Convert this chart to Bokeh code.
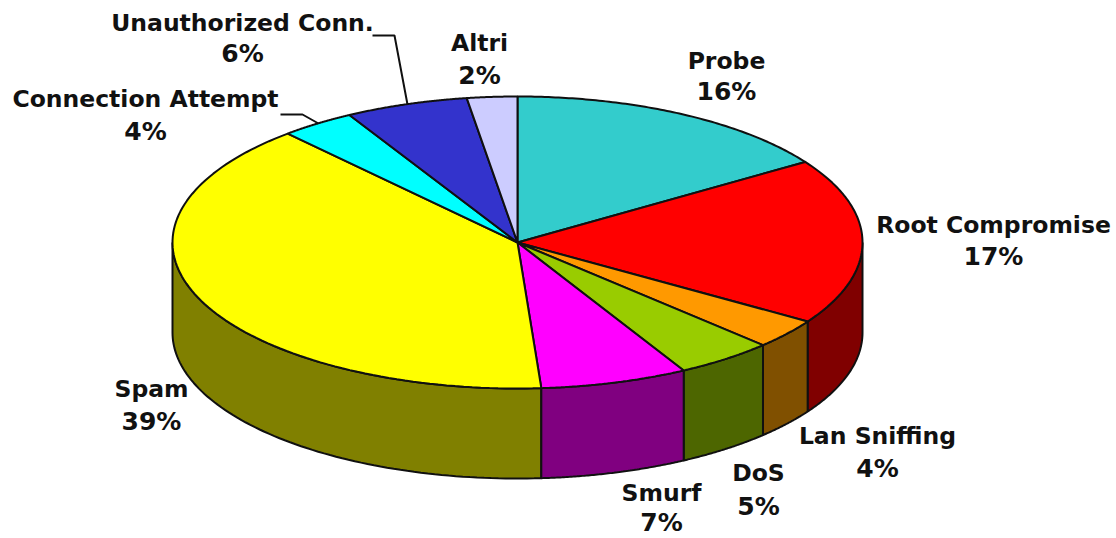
import numpy as np
from bokeh.plotting import figure
from bokeh.embed import file_html
from bokeh.resources import INLINE
from bokeh.core.properties import value as V

# data (slice order clockwise from 12 o'clock)
names = ["Probe", "Root Compromise", "Lan Sniffing", "DoS", "Smurf", "Spam",
         "Connection Attempt", "Unauthorized Conn.", "Altri"]
shares = [15.7, 18.4, 3.3, 4.6, 6.9, 39.5, 3.5, 5.75, 2.35]
shown = ["16%", "17%", "4%", "5%", "7%", "39%", "4%", "6%", "2%"]
top_colors = ["#33CCCC", "#FF0000", "#FF9900", "#99CC00", "#FF00FF", "#FFFF00", "#00FFFF", "#3333CC", "#CCCCFF"]
wall_colors = ["#1A6666", "#800000", "#805000", "#4D6600", "#800080", "#808000", "#008080", "#1A1A66", "#666680"]

# label anchors in page pixels: (centre x, y of name line, y of percent line)
label_x = [726, 993, 877, 758, 661, 151, 145, 242, 479]
label_y1 = [60, 224, 435, 472, 492, 388, 98, 22, 42]
label_y2 = [91, 256, 468, 506, 522, 421, 131, 53, 75]
name_size = ["23.5px"] * 9
pct_size = ["25px"] * 9

# leader lines in page pixels
leader_xs = [[372, 394, 407], [280, 302, 318]]
leader_ys = [[35, 35, 104], [114, 114, 123]]

W, H = 1116, 538
CX, CY, RX, RY, DEPTH = 517.0, 242.0, 345.0, 146.0, 90.0

p = figure(width=W, height=H, x_range=(0, W), y_range=(H, 0), output_backend="svg",
           toolbar_location=None, min_border=0, outline_line_color=None)
p.axis.visible = False
p.grid.visible = False
p.background_fill_color = "white"
p.border_fill_color = "white"

edges = np.concatenate([[0], np.cumsum(shares)]) / sum(shares) * 2 * np.pi


def px(t):
    return CX + RX * np.sin(t)


def py(t, d=0.0):
    return CY - RY * np.cos(t) + d


# side walls, back to front: left-hand ones first then right-hand ones
wx, wy, wc = [], [], []
for i in [5, 1, 2, 3, 4]:
    a, b = edges[i], edges[i + 1]
    lo, hi = max(a, np.pi / 2), min(b, 3 * np.pi / 2)
    if hi <= lo:
        continue
    t = np.linspace(lo, hi, 80)
    wx.append(np.concatenate([px(t), px(t[::-1])]))
    wy.append(np.concatenate([py(t), py(t[::-1], DEPTH)]))
    wc.append(wall_colors[i])
p.patches(wx, wy, fill_color=wc, line_color="#101010", line_width=2)

# top faces
tx, ty = [], []
for i in range(len(shares)):
    t = np.linspace(edges[i], edges[i + 1], 100)
    tx.append(np.concatenate([[CX], px(t)]))
    ty.append(np.concatenate([[CY], py(t)]))
p.patches(tx, ty, fill_color=top_colors, line_color="#101010", line_width=2)

p.multi_line(leader_xs, leader_ys, line_color="#101010", line_width=2)

for ys, txt, sz in ((label_y1, names, name_size), (label_y2, shown, pct_size)):
    p.text(x=label_x, y=ys, text=txt, text_align="center",
           text_baseline="middle", text_color="#111111", text_font=V("DejaVu Sans"),
           text_font_style="bold", text_font_size=sz)

open("out.html", "w").write(file_html(p, INLINE))
